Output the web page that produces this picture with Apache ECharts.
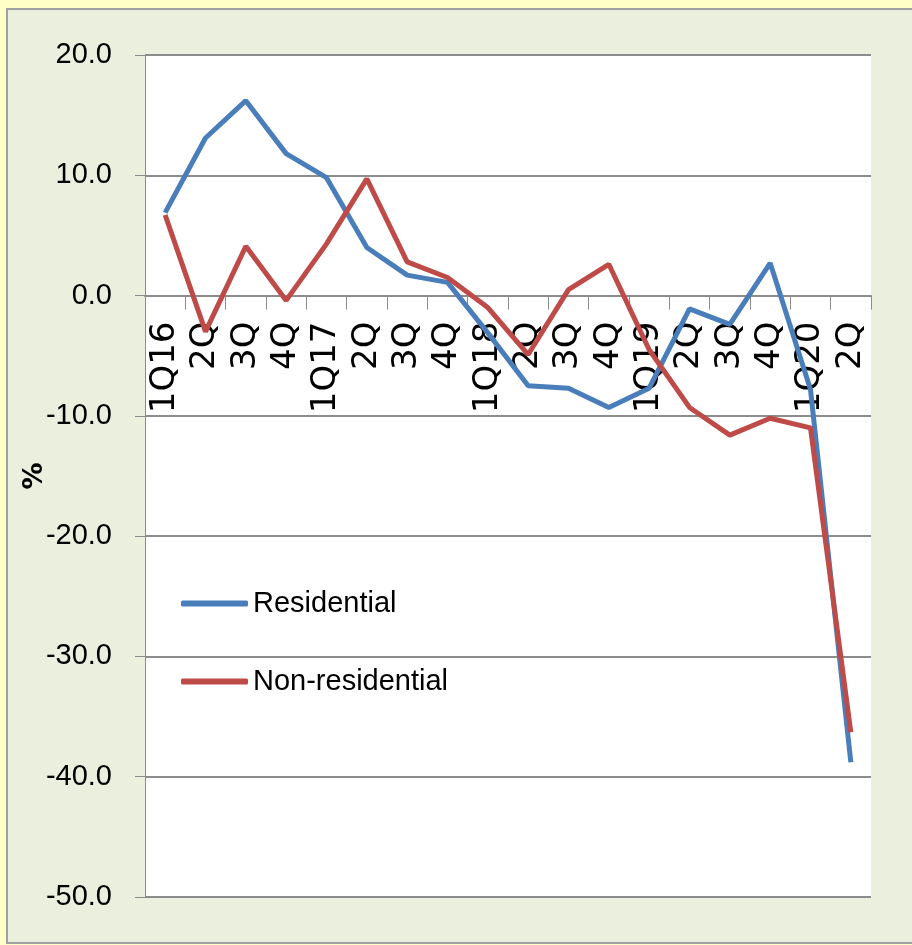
<!DOCTYPE html>
<html>
<head>
<meta charset="utf-8">
<script src="https://cdn.jsdelivr.net/npm/echarts@6/dist/echarts.min.js"></script>
<style>
  html, body { margin: 0; padding: 0; background: #FFFFC8; }
  #frame { position: absolute; left: 6px; top: 8px; width: 910px; height: 932px;
           border: 2px solid #A0A0A0; background: #EBF0DE; }
  #chart { position: absolute; left: 0; top: 0; width: 912px; height: 945px; }
</style>
</head>
<body>
<div id="frame"></div>
<div id="chart"></div>
<script>
const categories = ['1Q16','2Q','3Q','4Q','1Q17','2Q','3Q','4Q','1Q18','2Q','3Q','4Q','1Q19','2Q','3Q','4Q','1Q20','2Q'];
const residential = [6.9, 13.1, 16.2, 11.8, 9.8, 4.0, 1.7, 1.1, -3.1, -7.5, -7.7, -9.3, -7.7, -1.1, -2.4, 2.7, -7.8, -38.8];
const nonResidential = [6.7, -3.0, 4.1, -0.4, 4.3, 9.7, 2.8, 1.5, -1.0, -4.9, 0.5, 2.6, -4.5, -9.3, -11.6, -10.2, -11.0, -36.3];
const yTicks = { min: -50, max: 20, step: 10 };

const textFont = 'Liberation Sans';
const gridBox = { left: 145, right: 41, top: 55, bottom: 48 };
const chart = echarts.init(document.getElementById('chart'), null, { renderer: 'canvas' });
const option = {
  backgroundColor: 'transparent',
  animation: false,
  grid: Object.assign({ show: true, backgroundColor: '#FFFFFF', borderWidth: 0,
          containLabel: false, outerBoundsMode: 'none' }, gridBox),
  legend: {
    orient: 'vertical', left: 176, top: 584, itemGap: 49,
    itemWidth: 67, itemHeight: 6, icon: 'roundRect',
    textStyle: { fontFamily: textFont, fontSize: 29, color: '#000', padding: [0, 0, 0, 0] },
    data: ['Residential', 'Non-residential']
  },
  xAxis: {
    type: 'category', data: categories, boundaryGap: true, offset: 0,
    axisLine: { onZero: false, lineStyle: { color: '#8C8C8C', width: 2 } },
    axisTick: { show: true, length: 14, lineStyle: { color: '#8C8C8C', width: 1 } },
    axisLabel: { interval: 0, rotate: 90, margin: 26, fontFamily: 'DejaVu Sans', fontSize: 34, color: '#000' },
    splitLine: { show: false }
  },
  yAxis: {
    type: 'value', min: yTicks.min, max: yTicks.max, interval: yTicks.step,
    name: '%', nameLocation: 'middle', nameRotate: 90, nameGap: 97, nameMoveOverlap: false,
    nameTextStyle: { fontFamily: 'DejaVu Sans', fontWeight: 'bold', fontSize: 27, color: '#000' },
    axisLine: { show: true, lineStyle: { color: '#8C8C8C', width: 1 } },
    axisTick: { show: true, length: 10, lineStyle: { color: '#8C8C8C' } },
    axisLabel: { margin: 33, fontFamily: textFont, fontSize: 29, color: '#000',
                 formatter: v => v.toFixed(1) },
    splitLine: { show: true, lineStyle: { color: '#8C8C8C', width: 2 } }
  },
  series: [
    { name: 'Residential', type: 'line', data: residential, symbol: 'none', showSymbol: false,
      lineStyle: { color: '#4A7EBB', width: 5 }, itemStyle: { color: '#4A7EBB' }, z: 3 },
    { name: 'Non-residential', type: 'line', data: nonResidential, symbol: 'none', showSymbol: false,
      lineStyle: { color: '#BE4B48', width: 5 }, itemStyle: { color: '#BE4B48' }, z: 4 }
  ]
};
chart.setOption(option);
// place the category axis on the zero line using the value axis' own scale
const zeroY = chart.convertToPixel({ yAxisIndex: 0 }, 0);
const bottomY = chart.convertToPixel({ yAxisIndex: 0 }, yTicks.min);
chart.setOption({ xAxis: { offset: -(bottomY - zeroY) } });
</script>
</body>
</html>
